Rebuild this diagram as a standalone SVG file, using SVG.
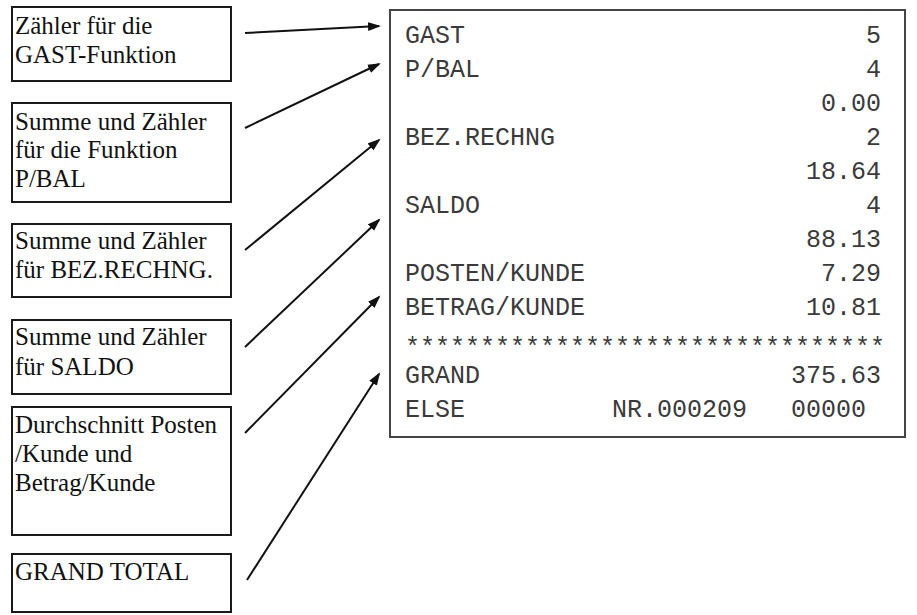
<svg xmlns="http://www.w3.org/2000/svg" width="917" height="615" viewBox="0 0 917 615">
<defs>
<style>
.box{fill:#fff;stroke:#1a1a1a;stroke-width:2}
.lbl{font-family:"Liberation Serif","Times New Roman",serif;font-size:25px;fill:#111}
.rc{font-family:"Liberation Mono","Courier New",monospace;font-size:25px;fill:#3a3a3a}
.r{text-anchor:end}
.con{stroke:#111;stroke-width:2;fill:none;marker-end:url(#ah)}
</style>
<marker id="ah" markerUnits="userSpaceOnUse" markerWidth="14" markerHeight="10" refX="11" refY="5" orient="auto">
<path d="M0,0.5 L13,5 L0,9.5 z" fill="#111"/>
</marker>
</defs>
<rect width="917" height="615" fill="#fff"/>

<g id="n1"><rect class="box" x="12" y="7" width="219" height="74"/>
<text class="lbl" x="15" y="34">Zähler für die</text>
<text class="lbl" x="15" y="63">GAST-Funktion</text></g>

<g id="n2"><rect class="box" x="12" y="103" width="219" height="99"/>
<text class="lbl" x="15" y="130">Summe und Zähler</text>
<text class="lbl" x="15" y="158">für die Funktion</text>
<text class="lbl" x="15" y="187">P/BAL</text></g>

<g id="n3"><rect class="box" x="12" y="224" width="219" height="73"/>
<text class="lbl" x="15" y="249">Summe und Zähler</text>
<text class="lbl" x="15" y="278">für BEZ.RECHNG.</text></g>

<g id="n4"><rect class="box" x="12" y="320" width="219" height="74"/>
<text class="lbl" x="15" y="345">Summe und Zähler</text>
<text class="lbl" x="15" y="375">für SALDO</text></g>

<g id="n5"><rect class="box" x="12" y="407" width="219" height="128"/>
<text class="lbl" x="15" y="433">Durchschnitt Posten</text>
<text class="lbl" x="15" y="462">/Kunde und</text>
<text class="lbl" x="15" y="491">Betrag/Kunde</text></g>

<g id="n6"><rect class="box" x="12" y="554" width="219" height="58"/>
<text class="lbl" x="15" y="580">GRAND TOTAL</text></g>

<g id="receipt">
<rect x="390" y="10" width="515" height="427" fill="#fff" stroke="#444" stroke-width="2"/>
<text class="rc" x="405" y="43">GAST</text><text class="rc r" x="881" y="43">5</text>
<text class="rc" x="405" y="77">P/BAL</text><text class="rc r" x="881" y="77">4</text>
<text class="rc r" x="881" y="111">0.00</text>
<text class="rc" x="405" y="145">BEZ.RECHNG</text><text class="rc r" x="881" y="145">2</text>
<text class="rc r" x="881" y="179">18.64</text>
<text class="rc" x="405" y="213">SALDO</text><text class="rc r" x="881" y="213">4</text>
<text class="rc r" x="881" y="247">88.13</text>
<text class="rc" x="405" y="281">POSTEN/KUNDE</text><text class="rc r" x="881" y="281">7.29</text>
<text class="rc" x="405" y="315">BETRAG/KUNDE</text><text class="rc r" x="881" y="315">10.81</text>
<text class="rc" x="405" y="355">********************************</text>
<text class="rc" x="405" y="383">GRAND</text><text class="rc r" x="881" y="383">375.63</text>
<text class="rc" x="405" y="417">ELSE</text><text class="rc" x="612" y="417">NR.000209</text><text class="rc" x="791" y="417">00000</text>
</g>

<g id="connectors">
<line class="con" x1="245" y1="33" x2="379" y2="26"/>
<line class="con" x1="245" y1="128" x2="379" y2="64"/>
<line class="con" x1="245" y1="250" x2="379" y2="140"/>
<line class="con" x1="245" y1="347" x2="379" y2="220"/>
<line class="con" x1="245" y1="433" x2="379" y2="297"/>
<line class="con" x1="247" y1="580" x2="379" y2="374"/>
</g>
</svg>
